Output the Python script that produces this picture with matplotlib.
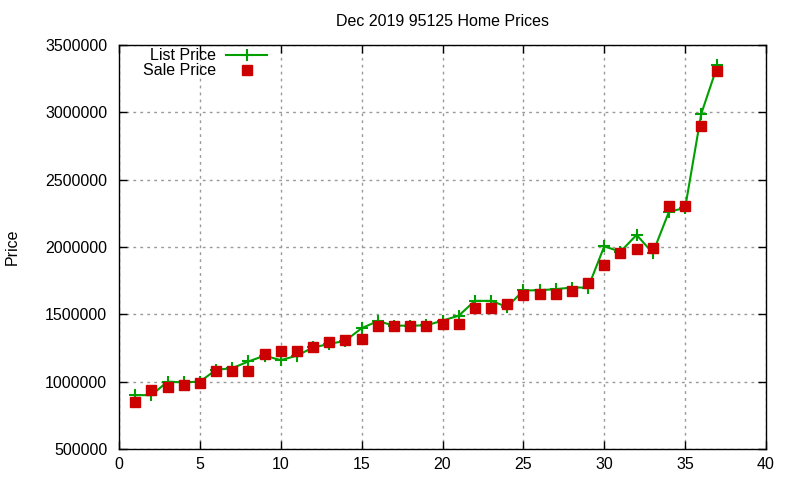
import matplotlib
matplotlib.use("Agg")
import matplotlib.pyplot as plt

plt.rcParams['font.family'] = ['Liberation Sans', 'DejaVu Sans']

idx = list(range(1, 38))
list_price = [900000, 900000, 1000000, 995000, 1000000, 1088000, 1100000, 1150000, 1193000, 1160000,
              1193000, 1254000, 1280000, 1304000, 1397000, 1450000, 1416000, 1416000, 1418000, 1453000,
              1490000, 1600000, 1600000, 1555000, 1677000, 1679000, 1687000, 1699000, 1699000, 2005000,
              1965000, 2090000, 1955000, 2262000, 2290000, 2990000, 3348000]
sale_price = [850000, 936000, 960000, 975000, 990000, 1078000, 1078000, 1078000, 1203000, 1225000,
              1230000, 1254000, 1291000, 1306000, 1318000, 1416000, 1416000, 1416000, 1415000, 1430000,
              1430000, 1550000, 1550000, 1580000, 1647000, 1654000, 1654000, 1674000, 1734000, 1863000,
              1958000, 1988000, 1995000, 2302000, 2302000, 2902000, 3304000]

fig = plt.figure(figsize=(8, 4.8), dpi=100)
ax = fig.add_axes([119 / 800, 1 - 449 / 480, (766 - 119) / 800, (449 - 45) / 480])

ax.plot(idx, list_price, color='#00a000', lw=1.5, marker='+', ms=8, mew=1.5, label='List Price')
ax.plot(idx, sale_price, ls='none', color='#cc0000', marker='s', ms=6.5, label='Sale Price')

ax.set_xlim(0, 40)
ax.set_ylim(500000, 3500000)
ax.set_xticks(range(0, 41, 5))
ax.set_yticks(range(500000, 3500001, 500000))
ax.ticklabel_format(style='plain', axis='y', useOffset=False)
ax.tick_params(direction='in', top=True, right=True, length=6, labelsize=11.5, width=1)
ax.tick_params(axis='y', pad=8.5)
ax.tick_params(axis='x', pad=6)
ax.grid(True, color='#999999', ls=(0, (2, 3)), lw=1)
for s in ax.spines.values():
    s.set_linewidth(1)

ax.set_title('Dec 2019 95125 Home Prices', fontsize=11.5, pad=14)
ax.set_ylabel('Price', fontsize=11.5)
ax.yaxis.set_label_coords(-0.153, 0.5)

ax.legend(loc='upper left', bbox_to_anchor=(0.02, 1.02), frameon=False, markerfirst=False,
          fontsize=11.5, handlelength=2.6, labelspacing=0.0, borderaxespad=0.3, handletextpad=0.6)

fig.savefig('out.png', dpi=100)
